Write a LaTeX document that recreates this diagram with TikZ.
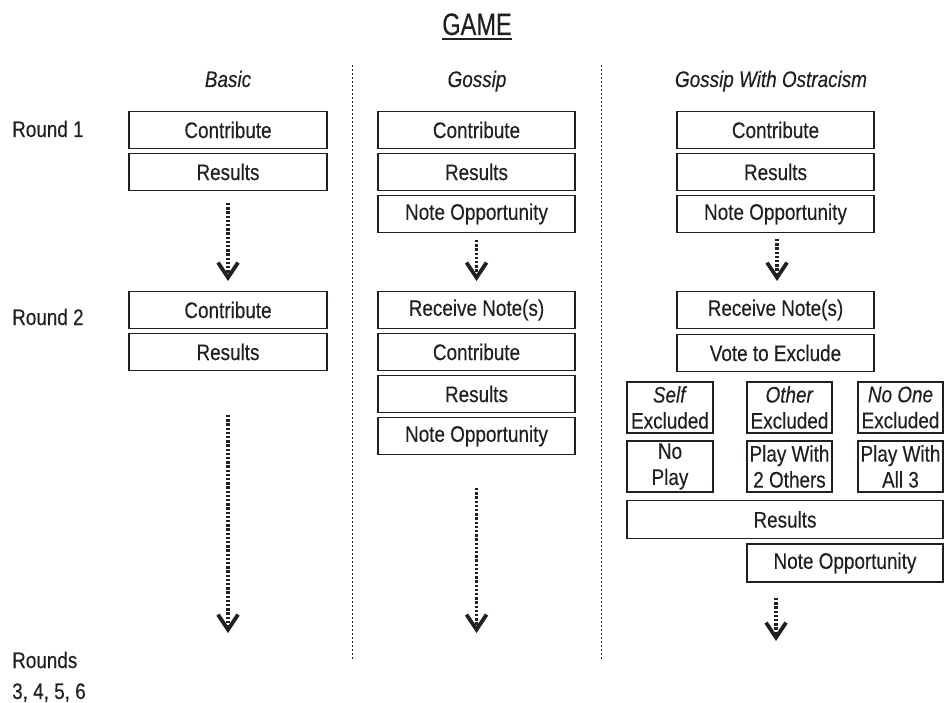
\documentclass[tikz,border=0pt]{standalone}
\usepackage{fontspec}
\setmainfont[FakeStretch=0.84, FakeBold=0.3]{Liberation Sans}
\newfontfamily\titlefont[FakeStretch=0.76, FakeBold=0.3]{Liberation Sans}
\usetikzlibrary{arrows.meta}
\definecolor{ink}{HTML}{231F20}
\tikzset{
  box/.style={draw=ink, line width=1.1pt, inner sep=0pt, minimum height=37.5pt, text=ink,
    font=\fontsize{22.5}{26}\selectfont},
  tallbox/.style={box, minimum height=51pt, align=center},
  lbl/.style={inner sep=0pt, text=ink, anchor=base west, font=\fontsize{22.5}{26}\selectfont},
  head/.style={inner sep=0pt, text=ink, anchor=base, font=\fontsize{22.5}{26}\selectfont\itshape},
  sep/.style={draw=ink, line width=0.8pt, dash pattern=on 2pt off 2pt},
  flow/.style={draw=ink, line width=3.8pt, dash pattern=on 2.4pt off 1.8pt,
    -{Straight Barb[length=15pt, width=20pt, line width=3.8pt]}}
}
\begin{document}
\begin{tikzpicture}[x=1pt, y=-1pt]
\useasboundingbox (0,0) rectangle (949,703);
% title
\node[inner sep=0pt, anchor=base, text=ink, font=\titlefont\fontsize{31}{31}\selectfont] (title) at (477,35) {GAME};
\draw[ink, line width=1.5pt] ([yshift=-4pt]title.base west) -- ([yshift=-4pt]title.base east);
% headings
\node[head] (hbasic) at (228,87) {Basic};
\node[head] (hgossip) at (477,87) {Gossip};
\node[head] (hostr) at (771,87) {Gossip With Ostracism};
% separators
\coordinate (s1t) at (352.5,65); \coordinate (s1b) at (352.5,660);
\coordinate (s2t) at (601,65);   \coordinate (s2b) at (601,660);
\draw[sep] (s1t) -- (s1b);
\draw[sep] (s2t) -- (s2b);
% round labels
\node[lbl] (r1) at (12,137) {Round 1};
\node[lbl] (r2) at (12,325) {Round 2};
\node[lbl] (r3) at (12,668) {Rounds};
\node[lbl] (r3b) at (12,699) {3, 4, 5, 6};
% column 1
\begin{scope}[every node/.style={box, minimum width=198pt}]
\node (a1) at (228,130) {Contribute};
\node (a2) at (228,172) {Results};
\node (a3) at (228,310) {Contribute};
\node (a4) at (228,352) {Results};
\end{scope}
% column 2
\begin{scope}[every node/.style={box, minimum width=197pt}]
\node (b1) at (476.5,130) {Contribute};
\node (b2) at (476.5,172) {Results};
\node (b3) at (476.5,214) {Note Opportunity};
\node (b4) at (476.5,310) {Receive Note(s)};
\node (b5) at (476.5,352) {Contribute};
\node (b6) at (476.5,394) {Results};
\node (b7) at (476.5,436) {Note Opportunity};
\end{scope}
% column 3
\begin{scope}[every node/.style={box, minimum width=197pt}]
\node (c1) at (775.5,130) {Contribute};
\node (c2) at (775.5,172) {Results};
\node (c3) at (775.5,214) {Note Opportunity};
\node (c4) at (775.5,310) {Receive Note(s)};
\node (c5) at (775.5,353) {Vote to Exclude};
\end{scope}
\node[tallbox, minimum width=86pt] (d1) at (670,407.5) {\textit{Self}\\Excluded};
\node[tallbox, minimum width=85pt] (d2) at (789.5,407.5) {\textit{Other}\\Excluded};
\node[tallbox, minimum width=85pt] (d3) at (900.5,407.5) {\textit{No One}\\Excluded};
\node[tallbox, minimum width=86pt] (e1) at (670,466.5) {No\\Play};
\node[tallbox, minimum width=85pt] (e2) at (789.5,466.5) {Play With\\2 Others};
\node[tallbox, minimum width=85pt] (e3) at (900.5,466.5) {Play With\\All 3};
\node[box, minimum width=316pt] (c6) at (785,519.5) {Results};
\node[box, minimum width=196pt, minimum height=38pt] (c7) at (845,563) {Note Opportunity};
% flow arrows
\coordinate (fa1s) at (228,203); \coordinate (fa1e) at (228,281);
\coordinate (fa2s) at (228,415); \coordinate (fa2e) at (228,633);
\coordinate (fb1s) at (476.5,240); \coordinate (fb1e) at (476.5,281);
\coordinate (fb2s) at (476.5,488); \coordinate (fb2e) at (476.5,633);
\coordinate (fc1s) at (777,239); \coordinate (fc1e) at (777,281);
\coordinate (fc2s) at (776,598); \coordinate (fc2e) at (776,641);
\draw[flow] (fa1s) -- (fa1e);
\draw[flow] (fa2s) -- (fa2e);
\draw[flow] (fb1s) -- (fb1e);
\draw[flow] (fb2s) -- (fb2e);
\draw[flow] (fc1s) -- (fc1e);
\draw[flow] (fc2s) -- (fc2e);
\end{tikzpicture}
\end{document}
